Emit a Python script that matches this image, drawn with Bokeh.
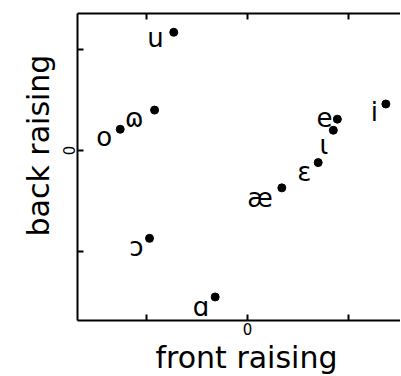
from bokeh.plotting import figure
from bokeh.models import ColumnDataSource, LinearAxis, FixedTicker, Range1d, Title
from bokeh.core.properties import value
from bokeh.embed import file_html
from bokeh.resources import INLINE

# data
vowels = ["u", "ɷ", "o", "ɔ", "ɑ", "æ", "ɛ", "ɩ", "e", "i"]
front_raising = [-0.73, -0.92, -1.26, -0.97, -0.32, 0.34, 0.70, 0.85, 0.89, 1.37]
back_raising = [1.17, 0.40, 0.21, -0.87, -1.45, -0.37, -0.12, 0.20, 0.31, 0.46]
tick_values = [-1, 0, 1]
x_title = "front raising"
y_title = "back raising"

# label placement (style)
label_dx = [-10, -11, -8, -6, -6, -9, -7, -5, -5, -8]
label_dy = [6, 8, 8, 9, 10, 10, 9, 15, -2, 8]

src = ColumnDataSource(dict(x=front_raising, y=back_raising, t=vowels,
                            dx=label_dx, dy=label_dy))

p = figure(width=400, height=374, x_range=Range1d(-1.683, 1.515),
           y_range=Range1d(-1.683, 1.356), output_backend="svg",
           toolbar_location=None, min_border_left=77, min_border_top=13,
           min_border_right=0, min_border_bottom=54)
p.outline_line_color = None
p.xgrid.visible = False
p.ygrid.visible = False
p.background_fill_color = "white"
p.border_fill_color = "white"

bottom = p.below[0]
left = p.left[0]
top = LinearAxis()
p.add_layout(top, "above")

FONT = "DejaVu Sans"
for ax in [bottom, left, top]:
    ax.ticker = FixedTicker(ticks=tick_values)
    ax.major_tick_in = 6
    ax.major_tick_out = 0
    ax.minor_tick_in = 0
    ax.minor_tick_out = 0
    ax.axis_line_width = 2
    ax.axis_line_color = "black"
    ax.major_tick_line_width = 2
    ax.major_tick_line_color = "black"
    ax.major_label_overrides = {-1: "", 1: ""}
    ax.major_label_text_font = FONT
    ax.major_label_text_color = "black"
    ax.major_label_text_font_size = "15px"
    ax.major_label_standoff = 2

top.major_label_overrides = {-1: "", 0: "", 1: ""}
top.major_label_standoff = 0
left.major_label_orientation = "vertical"

# axis titles
p.add_layout(Title(text=x_title, align="left", offset=78, standoff=0,
                   text_font=FONT, text_font_size="30px",
                   text_font_style="normal", text_color="black"), "below")
p.add_layout(Title(text=y_title, align="left", offset=84, standoff=10,
                   text_font=FONT, text_font_size="30px",
                   text_font_style="normal", text_color="black"), "left")

p.scatter("x", "y", source=src, size=8, color="black")
p.text("x", "y", text="t", source=src, x_offset="dx", y_offset="dy",
       text_align="right", text_baseline="alphabetic",
       text_font=value(FONT), text_font_size="26px", text_color="black")

open("out.html", "w").write(file_html(p, INLINE))
